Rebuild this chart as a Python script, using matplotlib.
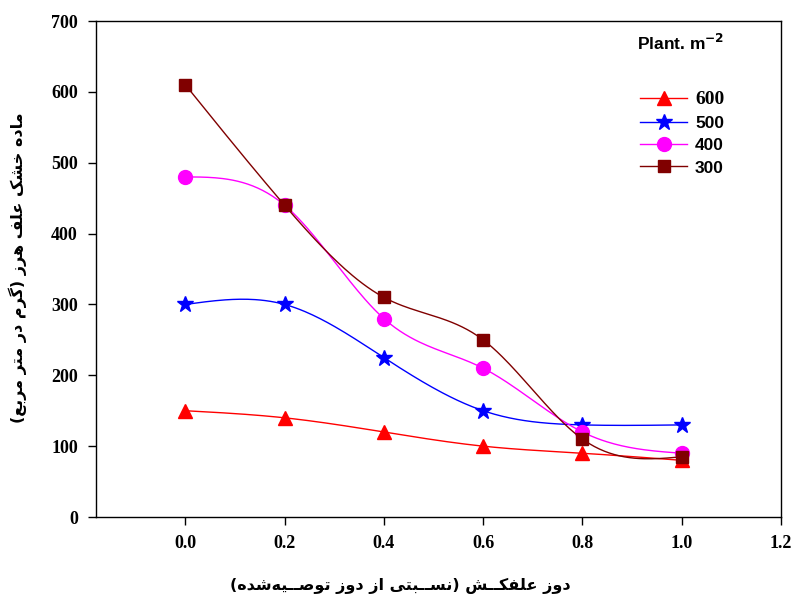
import matplotlib
matplotlib.use('Agg')
import matplotlib.pyplot as plt
import numpy as np

# --- データ ---
dose = [0.0, 0.2, 0.4, 0.6, 0.8, 1.0]
density_labels = ['600', '500', '400', '300']
dm_600 = [150, 140, 120, 100, 90, 80]
dm_500 = [300, 300, 225, 150, 130, 130]
dm_400 = [480, 440, 280, 210, 120, 90]
dm_300 = [610, 440, 310, 250, 110, 85]

x_label = 'دوز علفکــش (نســبتی از دوز توصــیه\u200cشده)'
y_label = 'ماده خشک علف هرز (گرم در متر مربع)'
legend_title = r'Plant. m$^{\mathbf{-2}}$'

# --- 表示用のアラビア文字整形 (連結形 + 右から左へ並べ替え) ---
FORMS = {
    # 単独, 語末, 語頭, 語中
    'ا': ('\uFE8D', '\uFE8E'),
    'د': ('\uFEA9', '\uFEAA'),
    'ر': ('\uFEAD', '\uFEAE'),
    'ز': ('\uFEAF', '\uFEB0'),
    'و': ('\uFEED', '\uFEEE'),
    'ب': ('\uFE8F', '\uFE90', '\uFE91', '\uFE92'),
    'ت': ('\uFE95', '\uFE96', '\uFE97', '\uFE98'),
    'خ': ('\uFEA5', '\uFEA6', '\uFEA7', '\uFEA8'),
    'س': ('\uFEB1', '\uFEB2', '\uFEB3', '\uFEB4'),
    'ش': ('\uFEB5', '\uFEB6', '\uFEB7', '\uFEB8'),
    'ص': ('\uFEB9', '\uFEBA', '\uFEBB', '\uFEBC'),
    'ع': ('\uFEC9', '\uFECA', '\uFECB', '\uFECC'),
    'ف': ('\uFED1', '\uFED2', '\uFED3', '\uFED4'),
    'ل': ('\uFEDD', '\uFEDE', '\uFEDF', '\uFEE0'),
    'م': ('\uFEE1', '\uFEE2', '\uFEE3', '\uFEE4'),
    'ن': ('\uFEE5', '\uFEE6', '\uFEE7', '\uFEE8'),
    'ه': ('\uFEE9', '\uFEEA', '\uFEEB', '\uFEEC'),
    'ک': ('\uFB8E', '\uFB8F', '\uFB90', '\uFB91'),
    'گ': ('\uFB92', '\uFB93', '\uFB94', '\uFB95'),
    'ی': ('\uFBFC', '\uFBFD', '\uFBFE', '\uFBFF'),
}
TATWEEL = '\u0640'


def joins_next(c):
    return c == TATWEEL or (c in FORMS and len(FORMS[c]) == 4)


def joins_prev(c):
    return c == TATWEEL or c in FORMS


def shape_rtl(text):
    out = []
    for i, c in enumerate(text):
        if c not in FORMS:
            out.append(c)
            continue
        prev_ok = i > 0 and joins_next(text[i - 1])
        next_ok = (len(FORMS[c]) == 4 and i + 1 < len(text)
                   and joins_prev(text[i + 1]))
        f = FORMS[c]
        if prev_ok and next_ok:
            out.append(f[3])
        elif prev_ok:
            out.append(f[1])
        elif next_ok:
            out.append(f[2])
        else:
            out.append(f[0])
    s = ''.join(out).replace('\u200c', '')
    s = s[::-1]
    return s.translate(str.maketrans('()', ')('))


def natural_spline(x, y, n=200):
    x = np.asarray(x, float)
    y = np.asarray(y, float)
    k = len(x)
    h = np.diff(x)
    A = np.zeros((k, k))
    b = np.zeros(k)
    A[0, 0] = A[-1, -1] = 1
    for i in range(1, k - 1):
        A[i, i - 1] = h[i - 1]
        A[i, i] = 2 * (h[i - 1] + h[i])
        A[i, i + 1] = h[i]
        b[i] = 6 * ((y[i + 1] - y[i]) / h[i] - (y[i] - y[i - 1]) / h[i - 1])
    m = np.linalg.solve(A, b)
    xs = np.linspace(x[0], x[-1], n)
    idx = np.clip(np.searchsorted(x, xs) - 1, 0, k - 2)
    x0, x1 = x[idx], x[idx + 1]
    hh = x1 - x0
    t0, t1 = x1 - xs, xs - x0
    ys = (m[idx] * t0**3 / (6 * hh) + m[idx + 1] * t1**3 / (6 * hh)
          + (y[idx] / hh - m[idx] * hh / 6) * t0
          + (y[idx + 1] / hh - m[idx + 1] * hh / 6) * t1)
    return xs, ys


plt.rcParams['font.family'] = ['Liberation Serif', 'DejaVu Sans']

fig = plt.figure(figsize=(7.94, 6.0), dpi=100)
ax = fig.add_axes([0.1209, 0.1383, 0.9836 - 0.1209, 0.965 - 0.1383])

series = [
    (dm_600, '#ff0000', '^', 10),
    (dm_500, '#0000ff', '*', 12),
    (dm_400, '#ff00ff', 'o', 10),
    (dm_300, '#800000', 's', 9),
]

handles = []
for (vals, col, mk, ms), lab in zip(series, density_labels):
    xs, ys = natural_spline(dose, vals)
    ax.plot(xs, ys, color=col, lw=1.0)
    ax.plot(dose, vals, ls='none', marker=mk, ms=ms, color=col,
            markeredgecolor=col)
    h, = ax.plot([], [], color=col, lw=1.0, marker=mk, ms=ms,
                 markeredgecolor=col)
    handles.append(h)

ax.set_xlim(-0.18, 1.2)
ax.set_ylim(0, 700)
ax.set_xticks([0.0, 0.2, 0.4, 0.6, 0.8, 1.0, 1.2])
ax.set_xticklabels(['0.0', '0.2', '0.4', '0.6', '0.8', '1.0', '1.2'])
ax.set_yticks(range(0, 701, 100))
ax.tick_params(direction='out', length=6, width=1, top=False, right=False,
               labelsize=13, pad=7)
for lbl in ax.get_xticklabels() + ax.get_yticklabels():
    lbl.set_fontweight('bold')
for sp in ax.spines.values():
    sp.set_linewidth(1.0)

fig.text(400 / 794, 1 - 586 / 600, shape_rtl(x_label), ha='center',
         va='center', fontsize=11.5, fontweight='bold', family='DejaVu Sans')
fig.text(18 / 794, 1 - 268 / 600, shape_rtl(y_label), ha='center',
         va='center', rotation=90, fontsize=11.5, fontweight='bold',
         family='DejaVu Sans')

ax.text(0.79, 0.955, legend_title, transform=ax.transAxes, ha='left',
        va='center', fontsize=12.5, fontweight='bold',
        family='Liberation Sans')

leg = ax.legend(handles, density_labels, loc='upper left',
                bbox_to_anchor=(0.772, 0.89), frameon=False,
                handlelength=2.7, handletextpad=0.45, labelspacing=0.42,
                prop={'family': 'Liberation Sans', 'weight': 'bold',
                      'size': 12.5})
leg.get_texts()[0].set_family('Liberation Serif')
leg.get_texts()[0].set_fontsize(14)

fig.savefig('out.png', dpi=100)
